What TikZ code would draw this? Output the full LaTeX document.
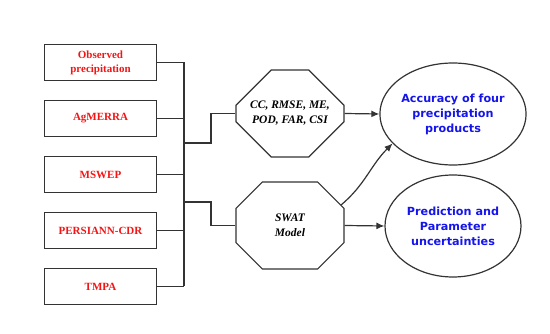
\documentclass[tikz,border=0pt]{standalone}
\usepackage{fontspec}
\setmainfont{Liberation Serif}
\newfontfamily\resfont{DejaVu Sans}
\usetikzlibrary{arrows.meta,positioning,shapes.geometric,shapes.misc}
\definecolor{linegray}{RGB}{51,51,51}
\definecolor{datared}{RGB}{245,20,20}
\definecolor{resblue}{RGB}{20,20,235}

\begin{document}
\begin{tikzpicture}[x=1pt,y=-1pt,node distance=20pt,
  src/.style={draw=linegray,line width=1.2pt,outer sep=0pt,align=center,minimum width=112pt,minimum height=36pt,inner sep=1pt,font=\fontsize{11}{14}\selectfont\bfseries,text=datared},
  oct/.style={chamfered rectangle,chamfered rectangle xsep=25pt,chamfered rectangle ysep=23pt,draw=linegray,line width=1.2pt,align=center,minimum width=108pt,minimum height=87pt,inner sep=0pt,font=\fontsize{11.5}{15}\selectfont\bfseries\itshape},
  res/.style={ellipse,draw=linegray,line width=1.2pt,align=center,minimum width=136pt,minimum height=102pt,inner sep=0pt,font=\resfont\fontsize{11.2}{15}\selectfont\bfseries,text=resblue},
  wire/.style={draw=linegray,line width=1.2pt},
  arr/.style={wire,-{Latex[length=8pt,width=7pt]}}]
\useasboundingbox (0,0) rectangle (550,334);
\node[src] (obs) at (100.5,62.5) {Observed\\precipitation};
\node[src,below=of obs] (agm) {AgMERRA};
\node[src,below=of agm] (msw) {MSWEP};
\node[src,below=of msw] (per) {PERSIANN-CDR};
\node[src,below=of per] (tmp) {TMPA};
\node[oct] (stats) at (290,113.5) {CC, RMSE, ME,\\POD, FAR, CSI};
\node[oct] (swat) at (290,225.5) {SWAT\\Model};
\node[res] (acc) at (453,114) {Accuracy of four\\precipitation\\products};
\node[res] (unc) at (453,226) {Prediction and\\Parameter\\uncertainties};
% bus from the five datasets
\coordinate (bustop) at (184,62.5);
\coordinate (busbot) at (184,286.5);
\draw[wire] (bustop) -- (busbot);
\foreach \n in {obs,agm,msw,per,tmp} \draw[wire] (\n.east) -- (\n.east -| bustop);
\coordinate (j1) at (184,143);
\coordinate (j2) at (184,202);
\draw[wire] (j1) -- ++(27,0) |- (stats.west);
\draw[wire] (j2) -- ++(27,0) |- (swat.west);
% results
\draw[arr] (stats.east) -- (acc.west);
\draw[arr] (swat.east) -- (unc.west);
\draw[arr] (swat.22) to[out=40,in=225] (acc.206);
\end{tikzpicture}
\end{document}
